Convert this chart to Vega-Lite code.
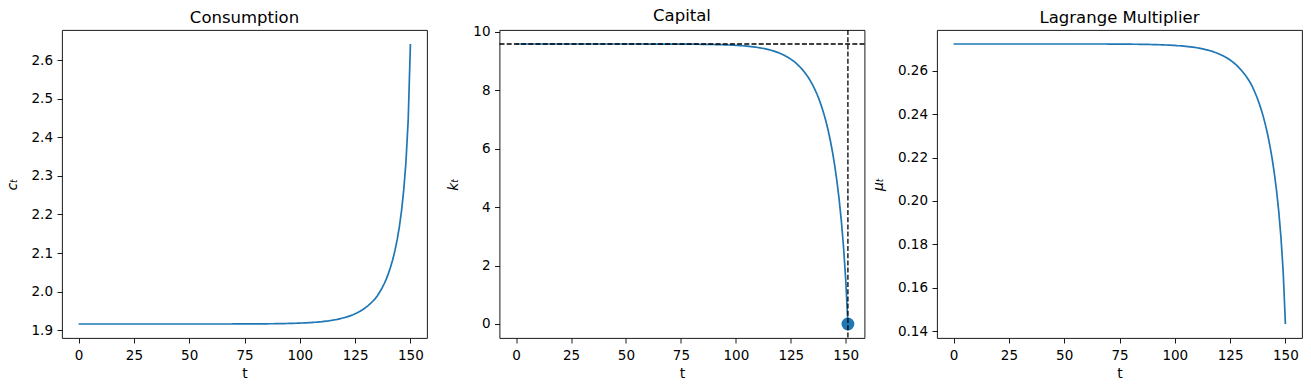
{
  "$schema": "https://vega.github.io/schema/vega-lite/v6.json",
  "padding": {"left": 4, "top": 7, "right": 5, "bottom": 5},
  "background": "white",
  "datasets": {
    "path": [
      {"t":0,"c":1.9161,"k":9.5758,"mu":0.27237},{"t":1,"c":1.9161,"k":9.5758,"mu":0.27237},{"t":2,"c":1.9161,"k":9.5758,"mu":0.27237},{"t":3,"c":1.9161,"k":9.5758,"mu":0.27237},{"t":4,"c":1.9161,"k":9.5758,"mu":0.27237},{"t":5,"c":1.9161,"k":9.5758,"mu":0.27237},{"t":6,"c":1.9161,"k":9.5758,"mu":0.27237},{"t":7,"c":1.9161,"k":9.5758,"mu":0.27237},{"t":8,"c":1.9161,"k":9.5758,"mu":0.27237},{"t":9,"c":1.9161,"k":9.5758,"mu":0.27237},
      {"t":10,"c":1.9161,"k":9.5758,"mu":0.27237},{"t":11,"c":1.9161,"k":9.5758,"mu":0.27237},{"t":12,"c":1.9161,"k":9.5758,"mu":0.27237},{"t":13,"c":1.9161,"k":9.5758,"mu":0.27237},{"t":14,"c":1.9161,"k":9.5758,"mu":0.27237},{"t":15,"c":1.9161,"k":9.5758,"mu":0.27237},{"t":16,"c":1.9161,"k":9.5758,"mu":0.27237},{"t":17,"c":1.9161,"k":9.5758,"mu":0.27237},{"t":18,"c":1.9161,"k":9.5758,"mu":0.27237},{"t":19,"c":1.9161,"k":9.5758,"mu":0.27237},
      {"t":20,"c":1.9161,"k":9.5758,"mu":0.27237},{"t":21,"c":1.9161,"k":9.5758,"mu":0.27237},{"t":22,"c":1.9161,"k":9.5758,"mu":0.27237},{"t":23,"c":1.9161,"k":9.5758,"mu":0.27237},{"t":24,"c":1.9161,"k":9.5758,"mu":0.27237},{"t":25,"c":1.9161,"k":9.5758,"mu":0.27237},{"t":26,"c":1.9161,"k":9.5758,"mu":0.27237},{"t":27,"c":1.9161,"k":9.5758,"mu":0.27237},{"t":28,"c":1.9161,"k":9.5758,"mu":0.27237},{"t":29,"c":1.9161,"k":9.5758,"mu":0.27237},
      {"t":30,"c":1.9161,"k":9.5758,"mu":0.27237},{"t":31,"c":1.9161,"k":9.5758,"mu":0.27237},{"t":32,"c":1.9161,"k":9.5758,"mu":0.27237},{"t":33,"c":1.9161,"k":9.5758,"mu":0.27237},{"t":34,"c":1.9161,"k":9.5758,"mu":0.27237},{"t":35,"c":1.9161,"k":9.5758,"mu":0.27237},{"t":36,"c":1.9161,"k":9.5758,"mu":0.27237},{"t":37,"c":1.9161,"k":9.5758,"mu":0.27237},{"t":38,"c":1.9161,"k":9.5758,"mu":0.27237},{"t":39,"c":1.9161,"k":9.5758,"mu":0.27237},
      {"t":40,"c":1.9161,"k":9.5758,"mu":0.27237},{"t":41,"c":1.9161,"k":9.5758,"mu":0.27237},{"t":42,"c":1.9161,"k":9.5758,"mu":0.27237},{"t":43,"c":1.9161,"k":9.5758,"mu":0.27237},{"t":44,"c":1.9161,"k":9.5758,"mu":0.27237},{"t":45,"c":1.9161,"k":9.5758,"mu":0.27237},{"t":46,"c":1.9161,"k":9.5758,"mu":0.27237},{"t":47,"c":1.9161,"k":9.5758,"mu":0.27237},{"t":48,"c":1.9161,"k":9.5758,"mu":0.27237},{"t":49,"c":1.9161,"k":9.5758,"mu":0.27237},
      {"t":50,"c":1.9161,"k":9.5758,"mu":0.27237},{"t":51,"c":1.9161,"k":9.5758,"mu":0.27237},{"t":52,"c":1.9161,"k":9.5758,"mu":0.27237},{"t":53,"c":1.9161,"k":9.5758,"mu":0.27237},{"t":54,"c":1.9161,"k":9.5758,"mu":0.27237},{"t":55,"c":1.9161,"k":9.5758,"mu":0.27237},{"t":56,"c":1.9161,"k":9.5758,"mu":0.27237},{"t":57,"c":1.9161,"k":9.5758,"mu":0.27237},{"t":58,"c":1.9161,"k":9.5758,"mu":0.27237},{"t":59,"c":1.9161,"k":9.5758,"mu":0.27237},
      {"t":60,"c":1.9161,"k":9.5749,"mu":0.27237},{"t":61,"c":1.9161,"k":9.5748,"mu":0.27237},{"t":62,"c":1.9161,"k":9.5747,"mu":0.27237},{"t":63,"c":1.9161,"k":9.5746,"mu":0.27237},{"t":64,"c":1.9161,"k":9.5745,"mu":0.27237},{"t":65,"c":1.9161,"k":9.5743,"mu":0.27237},{"t":66,"c":1.9161,"k":9.5742,"mu":0.27237},{"t":67,"c":1.9161,"k":9.5740,"mu":0.27237},{"t":68,"c":1.9161,"k":9.5738,"mu":0.27237},{"t":69,"c":1.9161,"k":9.5736,"mu":0.27237},
      {"t":70,"c":1.9162,"k":9.5734,"mu":0.27234},{"t":71,"c":1.9162,"k":9.5731,"mu":0.27234},{"t":72,"c":1.9163,"k":9.5729,"mu":0.27231},{"t":73,"c":1.9163,"k":9.5726,"mu":0.27231},{"t":74,"c":1.9163,"k":9.5722,"mu":0.27231},{"t":75,"c":1.9163,"k":9.5719,"mu":0.27231},{"t":76,"c":1.9163,"k":9.5715,"mu":0.27231},{"t":77,"c":1.9164,"k":9.5710,"mu":0.27228},{"t":78,"c":1.9164,"k":9.5705,"mu":0.27228},{"t":79,"c":1.9164,"k":9.5700,"mu":0.27228},
      {"t":80,"c":1.9164,"k":9.5694,"mu":0.27228},{"t":81,"c":1.9165,"k":9.5687,"mu":0.27226},{"t":82,"c":1.9165,"k":9.5680,"mu":0.27226},{"t":83,"c":1.9165,"k":9.5672,"mu":0.27226},{"t":84,"c":1.9166,"k":9.5663,"mu":0.27223},{"t":85,"c":1.9166,"k":9.5654,"mu":0.27223},{"t":86,"c":1.9167,"k":9.5643,"mu":0.27220},{"t":87,"c":1.9168,"k":9.5631,"mu":0.27217},{"t":88,"c":1.9168,"k":9.5618,"mu":0.27217},{"t":89,"c":1.9169,"k":9.5604,"mu":0.27214},
      {"t":90,"c":1.9170,"k":9.5588,"mu":0.27211},{"t":91,"c":1.9171,"k":9.5571,"mu":0.27209},{"t":92,"c":1.9172,"k":9.5552,"mu":0.27206},{"t":93,"c":1.9173,"k":9.5530,"mu":0.27203},{"t":94,"c":1.9174,"k":9.5507,"mu":0.27200},{"t":95,"c":1.9175,"k":9.5481,"mu":0.27197},{"t":96,"c":1.9177,"k":9.5453,"mu":0.27192},{"t":97,"c":1.9178,"k":9.5422,"mu":0.27189},{"t":98,"c":1.9180,"k":9.5387,"mu":0.27183},{"t":99,"c":1.9182,"k":9.5350,"mu":0.27177},
      {"t":100,"c":1.9184,"k":9.5308,"mu":0.27172},{"t":101,"c":1.9187,"k":9.5262,"mu":0.27163},{"t":102,"c":1.9189,"k":9.5211,"mu":0.27157},{"t":103,"c":1.9192,"k":9.5155,"mu":0.27149},{"t":104,"c":1.9195,"k":9.5093,"mu":0.27140},{"t":105,"c":1.9199,"k":9.5025,"mu":0.27129},{"t":106,"c":1.9203,"k":9.4950,"mu":0.27118},{"t":107,"c":1.9207,"k":9.4867,"mu":0.27106},{"t":108,"c":1.9212,"k":9.4776,"mu":0.27092},{"t":109,"c":1.9217,"k":9.4675,"mu":0.27078},
      {"t":110,"c":1.9222,"k":9.4564,"mu":0.27064},{"t":111,"c":1.9229,"k":9.4442,"mu":0.27044},{"t":112,"c":1.9236,"k":9.4307,"mu":0.27024},{"t":113,"c":1.9243,"k":9.4159,"mu":0.27004},{"t":114,"c":1.9252,"k":9.3995,"mu":0.26978},{"t":115,"c":1.9261,"k":9.3814,"mu":0.26955},{"t":116,"c":1.9271,"k":9.3615,"mu":0.26927},{"t":117,"c":1.9282,"k":9.3396,"mu":0.26896},{"t":118,"c":1.9295,"k":9.3154,"mu":0.26860},{"t":119,"c":1.9309,"k":9.2887,"mu":0.26821},
      {"t":120,"c":1.9324,"k":9.2593,"mu":0.26780},{"t":121,"c":1.9340,"k":9.2269,"mu":0.26735},{"t":122,"c":1.9359,"k":9.1912,"mu":0.26683},{"t":123,"c":1.9379,"k":9.1518,"mu":0.26628},{"t":124,"c":1.9401,"k":9.1084,"mu":0.26568},{"t":125,"c":1.9426,"k":9.0593,"mu":0.26499},{"t":126,"c":1.9454,"k":9.0050,"mu":0.26423},{"t":127,"c":1.9485,"k":8.9451,"mu":0.26339},{"t":128,"c":1.9519,"k":8.8789,"mu":0.26247},{"t":129,"c":1.9557,"k":8.8057,"mu":0.26145},
      {"t":130,"c":1.9598,"k":8.7249,"mu":0.26036},{"t":131,"c":1.9644,"k":8.6355,"mu":0.25914},{"t":132,"c":1.9695,"k":8.5368,"mu":0.25780},{"t":133,"c":1.9751,"k":8.4277,"mu":0.25634},{"t":134,"c":1.9813,"k":8.3071,"mu":0.25474},{"t":135,"c":1.9889,"k":8.1707,"mu":0.25280},{"t":136,"c":1.9976,"k":8.0185,"mu":0.25060},{"t":137,"c":2.0074,"k":7.8483,"mu":0.24816},{"t":138,"c":2.0185,"k":7.6576,"mu":0.24544},{"t":139,"c":2.0313,"k":7.4437,"mu":0.24235},
      {"t":140,"c":2.0460,"k":7.2030,"mu":0.23889},{"t":141,"c":2.0630,"k":6.9316,"mu":0.23496},{"t":142,"c":2.0828,"k":6.6244,"mu":0.23052},{"t":143,"c":2.1062,"k":6.2754,"mu":0.22543},{"t":144,"c":2.1341,"k":5.8769,"mu":0.21957},{"t":145,"c":2.1681,"k":5.4192,"mu":0.21274},{"t":146,"c":2.2102,"k":4.8894,"mu":0.20471},{"t":147,"c":2.2643,"k":4.2697,"mu":0.19504},{"t":148,"c":2.3373,"k":3.5345,"mu":0.18305},{"t":149,"c":2.4452,"k":2.6433,"mu":0.16725},
      {"t":150,"c":2.6420,"k":1.5234,"mu":0.14326},{"t":151,"c":null,"k":0,"mu":null}
    ]
  },
  "data": {"name": "path"},
  "bounds": "flush",
  "spacing": 72.5,
  "hconcat": [
    {
      "width": 365, "height": 308,
      "title": {"text": "Consumption", "offset": 4},
      "transform": [{"filter": "isValid(datum.c)"}],
      "mark": {"type": "line", "color": "#1f77b4", "strokeWidth": 1.7},
      "encoding": {
        "x": {"field": "t", "type": "quantitative", "scale": {"domain": [-7.5, 157.5], "nice": false, "zero": false}, "axis": {"values": [0, 25, 50, 75, 100, 125, 150], "title": "t"}},
        "y": {"field": "c", "type": "quantitative", "scale": {"domain": [1.8798, 2.6783], "nice": false, "zero": false}, "axis": {"values": [1.9, 2.0, 2.1, 2.2, 2.3, 2.4, 2.5, 2.6], "format": ".1f", "title": "cₜ", "titleFontStyle": "italic"}}
      }
    },
    {
      "width": 365, "height": 308,
      "title": {"text": "Capital", "offset": 0},
      "layer": [
        {
          "mark": {"type": "line", "color": "#1f77b4", "strokeWidth": 1.7},
          "encoding": {
            "x": {"field": "t", "type": "quantitative", "scale": {"domain": [-7.55, 158.55], "nice": false, "zero": false}, "axis": {"values": [0, 25, 50, 75, 100, 125, 150], "title": "t"}},
            "y": {"field": "k", "type": "quantitative", "scale": {"domain": [-0.4788, 10.0546], "nice": false, "zero": false}, "axis": {"values": [0, 2, 4, 6, 8, 10], "title": "kₜ", "titleFontStyle": "italic"}}
          }
        },
        {
          "transform": [{"filter": "datum.t == 151"}],
          "mark": {"type": "point", "filled": true, "opacity": 1, "color": "#1f77b4", "size": 165, "shape": "circle"},
          "encoding": {
            "x": {"field": "t", "type": "quantitative"},
            "y": {"field": "k", "type": "quantitative"}
          }
        },
        {
          "transform": [{"filter": "datum.t == 0"}],
          "mark": {"type": "rule", "color": "black", "strokeWidth": 1.3, "strokeDash": [5, 2.2]},
          "encoding": {"y": {"field": "k", "type": "quantitative"}}
        },
        {
          "transform": [{"filter": "datum.t == 151"}],
          "mark": {"type": "rule", "color": "black", "strokeWidth": 1.3, "strokeDash": [5, 2.2]},
          "encoding": {"x": {"field": "t", "type": "quantitative"}}
        }
      ]
    },
    {
      "width": 365, "height": 308,
      "title": {"text": "Lagrange Multiplier", "offset": 4},
      "transform": [{"filter": "isValid(datum.mu)"}],
      "mark": {"type": "line", "color": "#1f77b4", "strokeWidth": 1.7},
      "encoding": {
        "x": {"field": "t", "type": "quantitative", "scale": {"domain": [-7.5, 157.5], "nice": false, "zero": false}, "axis": {"values": [0, 25, 50, 75, 100, 125, 150], "title": "t"}},
        "y": {"field": "mu", "type": "quantitative", "scale": {"domain": [0.1368, 0.27883], "nice": false, "zero": false}, "axis": {"values": [0.14, 0.16, 0.18, 0.20, 0.22, 0.24, 0.26], "format": ".2f", "title": "μₜ", "titleFontStyle": "italic"}}
      }
    }
  ],
  "resolve": {"scale": {"x": "independent", "y": "independent"}},
  "config": {
    "view": {"stroke": "black", "strokeWidth": 0.9, "fill": "white"},
    "axis": {
      "domain": false, "grid": false, "ticks": true, "tickSize": 5, "tickColor": "black", "tickWidth": 0.9,
      "labelFont": "DejaVu Sans", "labelFontSize": 13.5, "labelColor": "black",
      "titleFont": "DejaVu Sans", "titleFontSize": 14, "titleFontWeight": "normal", "titleColor": "black"
    },
    "axisX": {"labelPadding": 5, "titlePadding": 5},
    "axisY": {"labelPadding": 4.5, "titlePadding": 12},
    "title": {"font": "DejaVu Sans", "fontSize": 16.5, "fontWeight": "normal", "color": "black", "anchor": "middle"}
  }
}
